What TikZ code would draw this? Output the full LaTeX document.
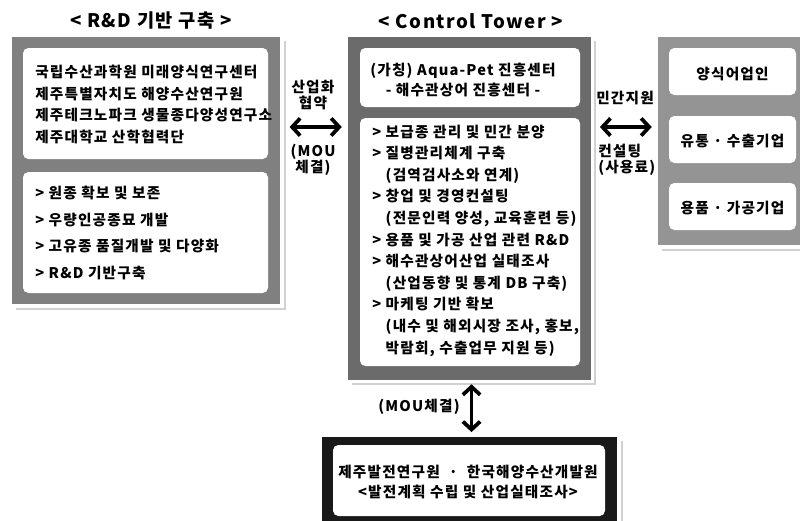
\documentclass[tikz,border=0pt]{standalone}
\usepackage{fontspec}
\setmainfont{Noto Sans CJK KR}[LetterSpace=8]
\usetikzlibrary{arrows.meta,fit}
\definecolor{rndgray}{gray}{0.5}
\definecolor{ctgray}{gray}{0.42}
\definecolor{usergray}{gray}{0.58}
\definecolor{shadowgray}{gray}{0.82}
\newcommand{\indline}{\hphantom{> }}

\begin{document}
\begin{tikzpicture}[x=0.75pt,y=-0.75pt,
    panel/.style={fill=#1,inner sep=0},
    card/.style={fill=white,rounded corners=4pt,inner sep=0},
    txt/.style={inner sep=0,align=left,anchor=west,font=\bfseries\fontsize{11}{16.3}\selectfont},
    ctxt/.style={inner sep=0,align=center,font=\bfseries\fontsize{11}{15}\selectfont},
    tag/.style={inner sep=0,align=center,font=\bfseries\fontsize{11}{11.8}\selectfont},
    title/.style={inner sep=0,font=\bfseries\fontsize{14}{17}\selectfont},
    shade/.style={draw=shadowgray,line width=1.6pt},
    twoway/.style={{Straight Barb[length=6pt,width=13pt]}-{Straight Barb[length=6pt,width=13pt]},line width=2.8pt}]
    \useasboundingbox (0,0) rectangle (800,521);

    % panels
    \node[panel=rndgray,fit={(12,37) (280,304)}] (rnd) {};
    \node[panel=ctgray,fit={(348,37) (591,380)}] (ct) {};
    \node[panel=usergray,fit={(658,37) (806,245)}] (user) {};
    \node[panel=black!90,fit={(322,437) (617,530)}] (plan) {};
    \draw[shade] ([shift={(5,4)}]rnd.north east) -- ([shift={(5,5)}]rnd.south east) -- ([shift={(4,5)}]rnd.south west);
    \draw[shade] ([shift={(4,4)}]ct.north east) -- ([shift={(4,4)}]ct.south east) -- ([shift={(4,4)}]ct.south west);
    \draw[shade] ([shift={(4,5)}]user.south west) -- ([shift={(0,5)}]user.south east);
    \draw[shade] ([shift={(5,4)}]plan.north east) -- ([shift={(5,0)}]plan.south east);

    \node[title] (rndtitle) at (151,21) {< R\&D 기반 구축 >};
    \node[title] (cttitle) at (471,21) {< Control Tower >};

    % R&D
    \node[card,fit={(23,48) (268,159)}] (rndorg) {};
    \node[txt] (rndorgtxt) at (35,104.5) {국립수산과학원 미래양식연구센터\\제주특별자치도 해양수산연구원\\제주테크노파크 생물종다양성연구소\\제주대학교 산학협력단};
    \node[card,fit={(23,172) (268,293)}] (rndtask) {};
    \node[txt,font=\bfseries\fontsize{11}{20}\selectfont] (rndtasktxt) at (35,233) {> 원종 확보 및 보존\\> 우량인공종묘 개발\\> 고유종 품질개발 및 다양화\\> R\&D 기반구축};

    % control tower
    \node[card,fit={(360,48) (580,107)}] (ctname) {};
    \node[ctxt] (ctnametxt) at (463,80) {(가칭) Aqua-Pet 진흥센터\\- 해수관상어 진흥센터 -};
    \node[card,fit={(360,118) (580,366)}] (cttask) {};
    \node[txt,font=\bfseries\fontsize{11}{16.2}\selectfont] (cttasktxt) at (372,240.5) {> 보급종 관리 및 민간 분양\\> 질병관리체계 구축\\\indline(검역검사소와 연계)\\> 창업 및 경영컨설팅\\\indline(전문인력 양성, 교육훈련 등)\\> 용품 및 가공 산업 관련 R\&D\\> 해수관상어산업 실태조사\\\indline(산업동향 및 통계 DB 구축)\\> 마케팅 기반 확보\\\indline(내수 및 해외시장 조사, 홍보,\\\indline 박람회, 수출업무 지원 등)};

    % users
    \node[card,fit={(669,48) (796,95)}] (farm) {};
    \node[ctxt] (farmtxt) at ([shift={(0,3)}]farm.center) {양식어업인};
    \node[card,fit={(669,116) (796,163)}] (export) {};
    \node[ctxt] (exporttxt) at ([shift={(0,2)}]export.center) {유통 · 수출기업};
    \node[card,fit={(669,183) (796,230)}] (goods) {};
    \node[ctxt] (goodstxt) at ([shift={(0,2)}]goods.center) {용품 · 가공기업};

    % research
    \node[card,fit={(333,445) (605,516)}] (inst) {};
    \node[ctxt] (insttxt) at (468,482) {제주발전연구원 \ · \ 한국해양수산개발원\\<발전계획 수립 및 산업실태조사>};

    % links
    \coordinate (linky) at (0,127);
    \draw[twoway,shorten <=7pt,shorten >=4.5pt] (rnd.east |- linky) -- (ct.west |- linky);
    \draw[twoway,shorten <=6.5pt,shorten >=4.5pt] (ct.east |- linky) -- (user.west |- linky);
    \draw[twoway,shorten <=3pt,shorten >=3.5pt] ([shift={(2,0)}]ct.south) -- ([shift={(2,0)}]ct.south |- plan.north);
    \node[tag] (deal) at (313,95) {산업화\\협약};
    \node[tag] (mou) at (313,159.5) {(MOU\\체결)};
    \node[tag] (aid) at (625,98) {민간지원};
    \node[tag,align=left,anchor=west] (fee) at (598,160) {컨설팅\\(사용료)};
    \node[tag] (moub) at (419,407) {(MOU체결)};
\end{tikzpicture}
\end{document}
